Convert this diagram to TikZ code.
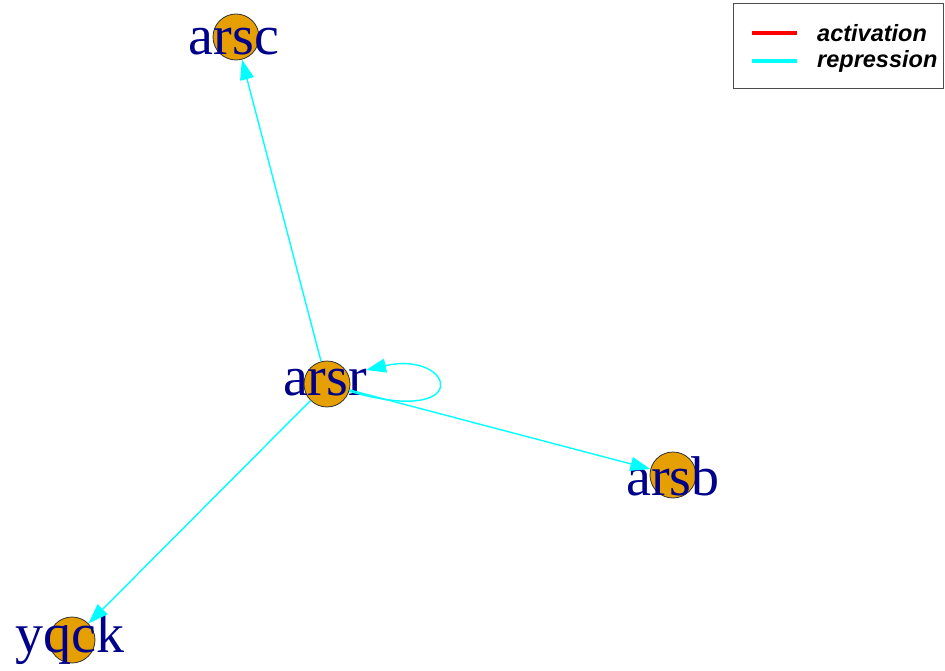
\documentclass[tikz,border=0pt]{standalone}
\usepackage{fontspec}
\setmainfont{Liberation Serif}
\newfontfamily\legendfont{Liberation Sans}
\usetikzlibrary{arrows.meta}
\definecolor{genefill}{RGB}{230,159,0}
\definecolor{genetext}{RGB}{0,0,139}
\definecolor{repcol}{RGB}{0,255,255}
\definecolor{actcol}{RGB}{255,0,0}

\begin{document}
\begin{tikzpicture}[
  x=1pt,y=-1pt,
  >={Triangle[length=20pt,width=14pt]},
  gene/.style={draw=black!80,fill=genefill,circle,minimum size=46pt,inner sep=0pt,line width=0.8pt},
  genelabel/.style={text=genetext,font=\fontsize{56}{56}\selectfont,inner sep=0pt,anchor=base},
  rep/.style={->,repcol,line width=1.4pt},
  legline/.style={line width=3.5pt},
  legtext/.style={font=\legendfont\fontsize{23.5}{24}\selectfont\bfseries\itshape,anchor=base west,inner sep=0pt}
]
\useasboundingbox (0,0) rectangle (945,671);
% genes
\node[gene] (arsc) at (236,37) {};
\node[gene] (arsr) at (327,384) {};
\node[gene] (arsb) at (673,475) {};
\node[gene] (yqck) at (72,640) {};
\node[genelabel] (arsclabel) at (234,55) {arsc};
\node[genelabel] (arsrlabel) at (325,395) {arsr};
\node[genelabel] (arsblabel) at (673,495) {arsb};
\node[genelabel] (yqcklabel) at (70,652) {yqck};
% regulation
\draw[rep] (arsr) -- (arsc);
\draw[rep] (arsr) -- (arsb);
\draw[rep] (arsr) -- (yqck);
\coordinate (loopend) at (366,370);
\draw[rep] (arsr.-18) .. controls (475,428) and (455,350) .. (loopend);
% legend
\node[draw=black!70,line width=1pt,minimum width=210pt,minimum height=85pt,anchor=north west,inner sep=0pt] (legend) at (733,3) {};
\draw[legline,actcol] (752,33) -- (797,33);
\draw[legline,repcol] (752,61) -- (797,61);
\node[legtext] (acttext) at (817,42) {activation};
\node[legtext] (reptext) at (817,68) {repression};
\end{tikzpicture}
\end{document}
